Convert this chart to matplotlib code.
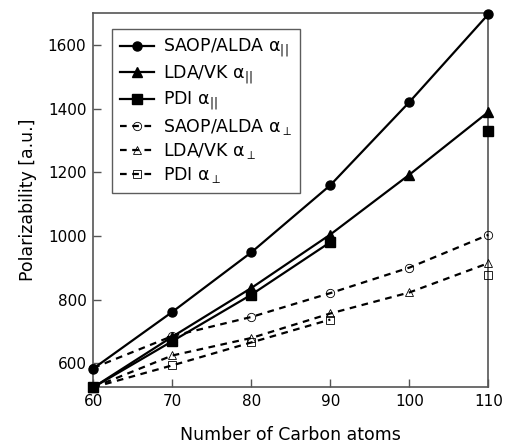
import numpy as np
import matplotlib
matplotlib.use("Agg")
import matplotlib.pyplot as plt

carbons = [60, 70, 80, 90, 100, 110]
saop_par = [584, 762, 949, 1160, 1421, 1697]
lda_par = [525, 684, 837, 1005, 1193, 1390]
pdi_par = [525, 670, 816, 981, np.nan, 1330]
saop_perp = [586, 686, 746, 821, 901, 1004]
lda_perp = [525, 625, 680, 757, 823, 915]
pdi_perp = [525, 594, 666, 738, np.nan, 878]

labels = ["SAOP/ALDA α$_{||}$", "LDA/VK α$_{||}$", "PDI α$_{||}$",
          "SAOP/ALDA α$_{\\perp}$", "LDA/VK α$_{\\perp}$", "PDI α$_{\\perp}$"]
xticks = [60, 70, 80, 90, 100, 110]
yticks = [600, 800, 1000, 1200, 1400, 1600]

plt.rcParams['font.family'] = ['DejaVu Sans']
plt.rcParams['mathtext.fontset'] = 'dejavusans'

fig = plt.figure(figsize=(5.05, 4.43), dpi=100)
ax = fig.add_axes([0.1848, 0.1264, 0.967 - 0.1848, 0.970 - 0.1264])

series = [
    (saop_par, '-', 'o', 'black', 6.5),
    (lda_par, '-', '^', 'black', 6.5),
    (pdi_par, '-', 's', 'black', 6.5),
    (saop_perp, (0, (3, 2.5)), 'o', 'none', 6),
    (lda_perp, (0, (3, 2.5)), '^', 'none', 6),
    (pdi_perp, (0, (3, 2.5)), 's', 'none', 6),
]
for (vals, ls, mk, mfc, ms), lab in zip(series, labels):
    ax.plot(carbons, vals, linestyle=ls, marker=mk, color='black', markerfacecolor=mfc,
            markeredgecolor='black', markeredgewidth=0.6 if mfc == 'none' else 1,
            markersize=ms, linewidth=1.6, label=lab, clip_on=False, zorder=3)

ax.set_xlim(60, 110)
ax.set_ylim(526, 1700)
ax.set_xticks(xticks)
ax.set_yticks(yticks)
ax.tick_params(direction='in', length=6, width=1, color='#555555', labelsize=11, pad=5)
for s in ax.spines.values():
    s.set_color('#555555')
    s.set_linewidth(1.2)

ax.set_xlabel("Number of Carbon atoms", fontsize=12.5, labelpad=12)
ax.set_ylabel("Polarizability [a.u.]", fontsize=12.5, labelpad=8)

leg = ax.legend(loc='upper left', bbox_to_anchor=(0.047, 0.957), borderaxespad=0,
                fontsize=12.5, frameon=True, fancybox=False, edgecolor='#333333',
                handlelength=2.0, handletextpad=0.5, borderpad=0.45, labelspacing=0.25)
leg.get_frame().set_linewidth(1.0)

fig.savefig("out.png", dpi=100)
